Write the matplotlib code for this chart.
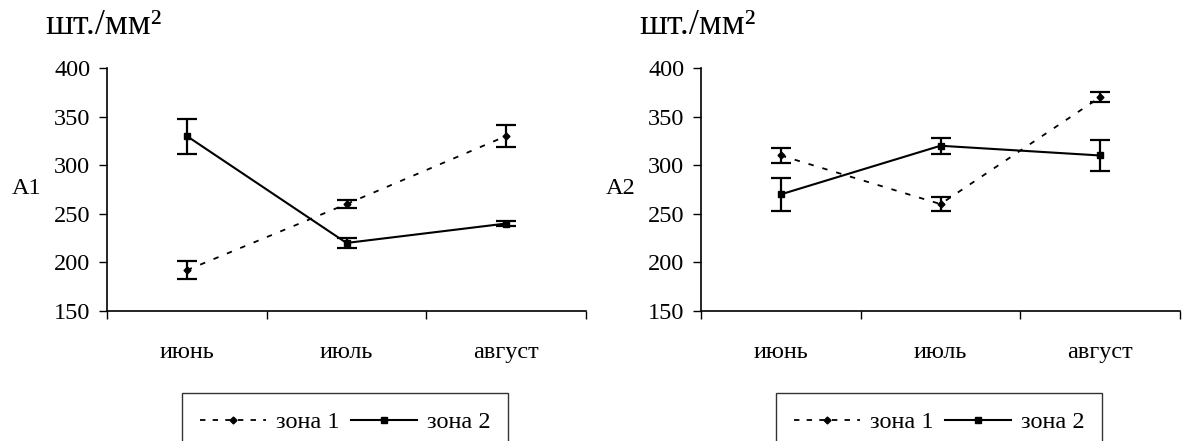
import matplotlib
matplotlib.use("Agg")
import matplotlib.pyplot as plt
from matplotlib.lines import Line2D
import numpy as np

months = ["июнь", "июль", "август"]
series_names = ["зона 1", "зона 2"]

a1_zone1 = [192, 260, 330]
a1_zone1_err = [9, 4, 11]
a1_zone2 = [330, 220, 240]
a1_zone2_err = [18, 5, 3]

a2_zone1 = [310, 260, 370]
a2_zone1_err = [8, 7, 5]
a2_zone2 = [270, 320, 310]
a2_zone2_err = [17, 8, 16]

panel_labels = ["A1", "A2"]
unit_label = "шт./мм²"
yticks = [150, 200, 250, 300, 350, 400]

plt.rcParams['font.family'] = ['Liberation Serif', 'DejaVu Serif']

fig = plt.figure(figsize=(11.88, 4.41), dpi=100)
W, H = 1188, 441
axes_px = [(107, 68, 479, 243), (701, 68, 479, 243)]
legend_px = [(182, 393), (776, 393)]

data = [
    (a1_zone1, a1_zone1_err, a1_zone2, a1_zone2_err),
    (a2_zone1, a2_zone1_err, a2_zone2, a2_zone2_err),
]

FS = 17.5
for i, (x0, y0, w, h) in enumerate(axes_px):
    ax = fig.add_axes([x0 / W, 1 - (y0 + h) / H, w / W, h / H])
    z1, e1, z2, e2 = data[i]
    x = np.arange(len(months))
    ax.errorbar(x, z1, yerr=e1, color='black', linestyle=(0, (3, 5)), lw=1.3,
                marker='D', ms=3.5, capsize=7, elinewidth=1.6, capthick=1.6,
                label=series_names[0])
    ax.errorbar(x, z2, yerr=e2, color='black', linestyle='-', lw=1.5,
                marker='s', ms=4, capsize=7, elinewidth=1.6, capthick=1.6,
                label=series_names[1])
    ax.set_xlim(-0.5, len(months) - 0.5)
    ax.set_ylim(150, 400)
    ax.set_yticks(yticks)
    ax.set_xticks(x)
    ax.set_xticklabels(months)
    ax.set_xticks(np.arange(-0.5, len(months)), minor=True)
    ax.tick_params(axis='x', which='major', length=0, pad=22, labelsize=FS)
    ax.tick_params(axis='x', which='minor', length=6, direction='out', width=1)
    ax.tick_params(axis='y', length=6, direction='out', labelsize=FS, pad=6, width=1)
    for s in ['top', 'right']:
        ax.spines[s].set_visible(False)
    for s in ['left', 'bottom']:
        ax.spines[s].set_linewidth(1.2)
    fig.text((x0 - 95) / W, 1 - 188 / H, panel_labels[i], fontsize=FS,
             ha='left', va='center')
    fig.text((x0 - 62) / W, 1 - 26 / H, unit_label, fontsize=26,
             ha='left', va='center')
    lx, ly = legend_px[i]
    h1 = Line2D([], [], color='black', linestyle=(0, (3, 4)), lw=1.3, marker='D', ms=3.5)
    h2 = Line2D([], [], color='black', linestyle='-', lw=1.5, marker='s', ms=4)
    leg = fig.legend([h1, h2], series_names, loc='upper left',
                     bbox_to_anchor=(lx / W, 1 - ly / H), ncol=2, fontsize=FS,
                     frameon=True, fancybox=False, edgecolor='black',
                     handlelength=2.7, handletextpad=0.4, columnspacing=0.5,
                     borderpad=0.75, borderaxespad=0)
    leg.get_frame().set_linewidth(1.0)

fig.savefig("out.png", dpi=100)
